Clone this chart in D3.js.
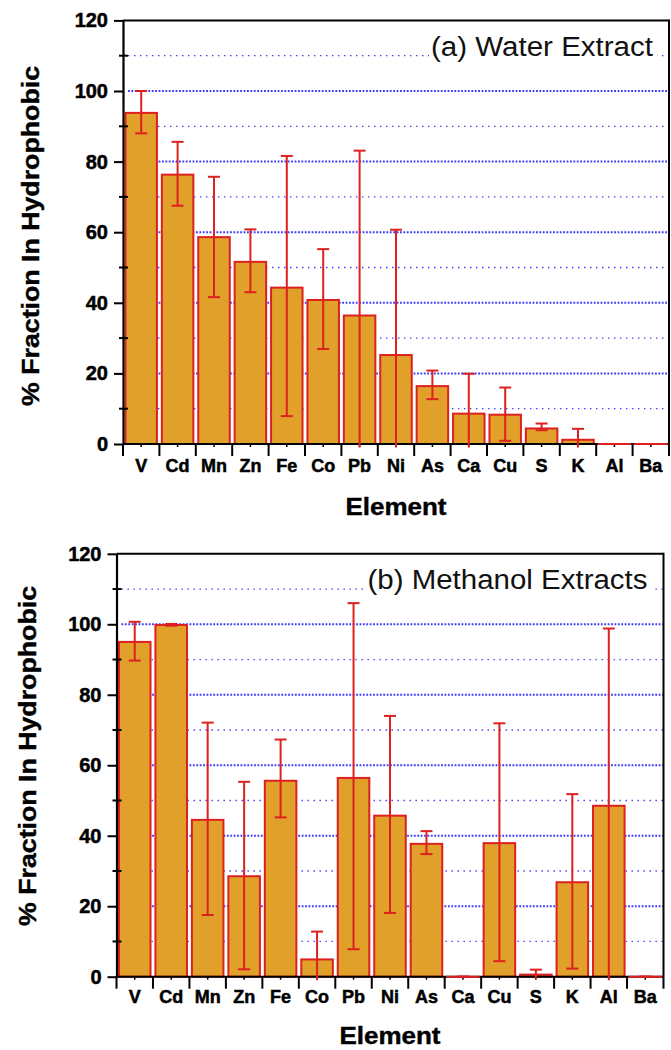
<!DOCTYPE html>
<html>
<head>
<meta charset="utf-8">
<script src="https://cdn.jsdelivr.net/npm/d3@7"></script>
<style>
  body { margin: 0; background: #fff; }
  text { font-family: "Liberation Sans", Arial, sans-serif; }
</style>
</head>
<body>
<div id="chart"></div>
<script>
// data
var elements = ["V", "Cd", "Mn", "Zn", "Fe", "Co", "Pb", "Ni", "As", "Ca", "Cu", "S", "K", "Al", "Ba"];

var waterMean = [93.8, 76.3, 58.6, 51.6, 44.3, 40.8, 36.4, 25.2, 16.4, 8.6, 8.3, 4.4, 1.2, 0, 0];
var waterLow  = [88, 67.5, 41.6, 43, 7.9, 26.9, -1, -1, 12.7, -1, 0.9, 3.9, -1, 0, 0];
var waterHigh = [100, 85.6, 75.7, 60.8, 81.6, 55.2, 83.1, 60.7, 20.8, 19.9, 16, 5.8, 4.3, 0, 0];

var methMean = [95, 99.8, 44.5, 28.5, 55.6, 4.9, 56.4, 45.7, 37.7, 0, 37.9, 0.6, 26.8, 48.5, 0];
var methLow  = [89.7, 99.6, 17.5, 2.1, 45.2, -1, 7.8, 18.1, 34.8, 0, 4.4, -0.5, 2.3, -1, 0];
var methHigh = [100.7, 100.1, 72.1, 55.3, 67.3, 12.8, 106, 74, 41.3, 0, 71.9, 2, 51.8, 98.8, 0];

var majorTicks = [0, 20, 40, 60, 80, 100, 120];
var minorTicks = [10, 30, 50, 70, 90, 110];

var yLabel = "% Fraction In Hydrophobic";
var xLabel = "Element";

var W = 671, H = 1050;
var barFill = "#E0A02A";
var red = "#DD2020";
var gridBlue = "#3a3aff";

var svg = d3.select("#chart").append("svg").attr("width", W).attr("height", H);

function drawPanel(p) {
    var g = svg.append("g");
    var x = d3.scaleBand().domain(elements).range([p.x0, p.x1]).paddingInner(0.08).paddingOuter(0.04);
    var y = d3.scaleLinear().domain([0, 120]).range([p.y0, p.y1]);

    var rows = elements.map(function (e, i) {
        return {name: e, v: p.mean[i], lo: p.low[i], hi: p.high[i]};
    });

    // grid
    g.selectAll(".gmin").data(minorTicks).enter().append("line")
        .attr("x1", p.x0 + 5).attr("x2", p.x1)
        .attr("y1", function (d) { return y(d); }).attr("y2", function (d) { return y(d); })
        .attr("stroke", gridBlue).attr("stroke-width", 1.3).attr("stroke-dasharray", "1.4,4.6");
    g.selectAll(".gmaj").data(majorTicks.filter(function (d) { return d > 0 && d < 120; })).enter().append("line")
        .attr("x1", p.x0 + 5).attr("x2", p.x1)
        .attr("y1", function (d) { return y(d); }).attr("y2", function (d) { return y(d); })
        .attr("stroke", gridBlue).attr("stroke-width", 2).attr("stroke-dasharray", "1.8,1.6");

    // title with white box behind it
    var title = g.append("text")
        .attr("x", p.x1 - 16).attr("y", y(110))
        .attr("text-anchor", "end")
        .attr("font-size", 27)
        .attr("fill", "#111")
        .text(p.title);
    title.attr("textLength", p.titleLen).attr("lengthAdjust", "spacingAndGlyphs");
    var bb = title.node().getBBox();
    g.insert("rect", "text").attr("x", bb.x - 2).attr("y", y(110) - 3).attr("width", bb.width + 6).attr("height", 6).attr("fill", "#fff");

    // bars
    g.selectAll(".bar").data(rows).enter().append("rect")
        .attr("x", function (d) { return x(d.name) + 1; })
        .attr("y", function (d) { return y(d.v); })
        .attr("width", x.bandwidth() - 2)
        .attr("height", function (d) { return y(0) - y(d.v); })
        .attr("fill", barFill).attr("stroke", red).attr("stroke-width", 2);

    // frame: top and right
    g.append("line").attr("x1", p.x0).attr("x2", p.x1).attr("y1", y(120)).attr("y2", y(120)).attr("stroke", "#000").attr("stroke-width", 2);
    g.append("line").attr("x1", p.x1).attr("x2", p.x1).attr("y1", y(120) - 1).attr("y2", y(0)).attr("stroke", "#000").attr("stroke-width", 2);

    // x axis line and category boundary ticks
    g.append("line").attr("x1", p.x0).attr("x2", p.x1).attr("y1", y(0)).attr("y2", y(0)).attr("stroke", "#000").attr("stroke-width", 2);
    var bounds = d3.range(elements.length + 1).map(function (i) { return p.x0 + i * x.step(); });
    g.selectAll(".xt").data(bounds).enter().append("line")
        .attr("x1", function (d) { return d; }).attr("x2", function (d) { return d; })
        .attr("y1", y(0)).attr("y2", y(0) + 12)
        .attr("stroke", "#000").attr("stroke-width", 2);
    g.selectAll(".xm").data(elements).enter().append("line")
        .attr("x1", function (d) { return x(d) + x.bandwidth() / 2; }).attr("x2", function (d) { return x(d) + x.bandwidth() / 2; })
        .attr("y1", y(0)).attr("y2", y(0) + 3)
        .attr("stroke", "#000").attr("stroke-width", 1.5);

    // zero bars overlay the axis in red
    g.selectAll(".zero").data(rows.filter(function (d) { return d.v === 0; })).enter().append("line")
        .attr("x1", function (d) { return x(d.name); }).attr("x2", function (d) { return x(d.name) + x.bandwidth(); })
        .attr("y1", y(0)).attr("y2", y(0))
        .attr("stroke", red).attr("stroke-width", 2);

    // error bars
    var eb = g.selectAll(".err").data(rows).enter().append("g");
    var cx = function (d) { return x(d.name) + x.bandwidth() / 2; };
    eb.append("line")
        .attr("x1", cx).attr("x2", cx)
        .attr("y1", function (d) { return y(d.lo); }).attr("y2", function (d) { return y(d.hi); })
        .attr("stroke", red).attr("stroke-width", 2);
    eb.append("line")
        .attr("x1", function (d) { return cx(d) - 6; }).attr("x2", function (d) { return cx(d) + 6; })
        .attr("y1", function (d) { return y(d.hi); }).attr("y2", function (d) { return y(d.hi); })
        .attr("stroke", red).attr("stroke-width", 2);
    eb.filter(function (d) { return d.lo >= 0; }).append("line")
        .attr("x1", function (d) { return cx(d) - 6; }).attr("x2", function (d) { return cx(d) + 6; })
        .attr("y1", function (d) { return y(d.lo); }).attr("y2", function (d) { return y(d.lo); })
        .attr("stroke", red).attr("stroke-width", 2);

    // y axis
    var yAxis = d3.axisLeft(y).tickValues(majorTicks).tickSize(9).tickPadding(6).tickSizeOuter(0);
    var ya = g.append("g").attr("transform", "translate(" + p.x0 + ",0)").call(yAxis);
    ya.select(".domain").attr("stroke", "#000").attr("stroke-width", 2.2);
    ya.selectAll(".tick line").attr("stroke", "#000").attr("stroke-width", 2);
    ya.selectAll(".tick text").attr("font-size", 20).attr("font-weight", "bold").attr("fill", "#000")
        .attr("stroke", "#000").attr("stroke-width", 0.5)
        .attr("font-family", "'Liberation Sans', Arial, sans-serif");
    g.selectAll(".ymin").data(minorTicks).enter().append("line")
        .attr("x1", p.x0 - 4).attr("x2", p.x0 + 5)
        .attr("y1", function (d) { return y(d); }).attr("y2", function (d) { return y(d); })
        .attr("stroke", "#000").attr("stroke-width", 2);

    // x labels
    var xAxis = d3.axisBottom(x).tickSize(0).tickPadding(0);
    var xa = g.append("g").attr("transform", "translate(0," + y(0) + ")").call(xAxis);
    xa.select(".domain").remove();
    xa.selectAll(".tick text").attr("y", p.labelDy).attr("dy", 0)
        .attr("font-size", 18).attr("font-weight", "bold").attr("fill", "#000")
        .attr("stroke", "#000").attr("stroke-width", 0.5)
        .attr("font-family", "'Liberation Sans', Arial, sans-serif");

    // axis titles
    g.append("text")
        .attr("x", (p.x0 + p.x1) / 2).attr("y", p.xTitleY)
        .attr("text-anchor", "middle").attr("font-size", 23).attr("font-weight", "bold")
        .attr("stroke", "#000").attr("stroke-width", 0.4)
        .attr("textLength", 101).attr("lengthAdjust", "spacingAndGlyphs")
        .text(xLabel);
    g.append("text")
        .attr("transform", "translate(" + p.yTitleX + "," + p.yTitleY + ") rotate(-90)")
        .attr("text-anchor", "middle").attr("font-size", 24).attr("font-weight", "bold")
        .attr("stroke", "#000").attr("stroke-width", 0.4)
        .attr("textLength", 340).attr("lengthAdjust", "spacingAndGlyphs")
        .text(yLabel);
}

drawPanel({
    x0: 123, x1: 669, y0: 444, y1: 20.4,
    mean: waterMean, low: waterLow, high: waterHigh,
    title: "(a) Water Extract", titleLen: 222,
    labelDy: 27.5, xTitleY: 515, yTitleX: 39, yTitleY: 236
});

drawPanel({
    x0: 116.5, x1: 663.5, y0: 976.7, y1: 553.8,
    mean: methMean, low: methLow, high: methHigh,
    title: "(b) Methanol Extracts", titleLen: 280,
    labelDy: 26, xTitleY: 1044, yTitleX: 36, yTitleY: 756
});
</script>
</body>
</html>
